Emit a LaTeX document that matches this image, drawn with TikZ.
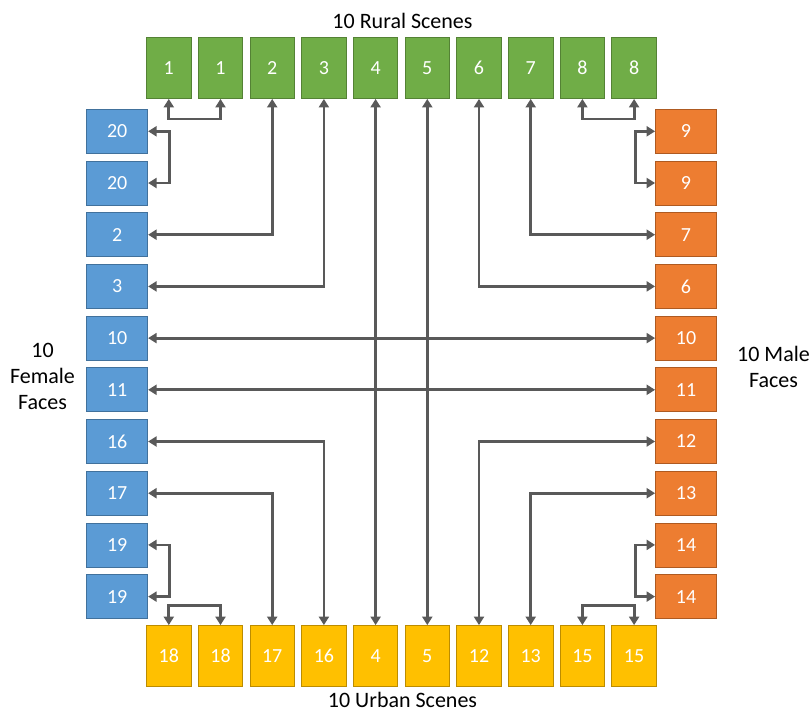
\documentclass[tikz,border=0pt]{standalone}
\usepackage{fontspec}
\setmainfont{Carlito}
\usetikzlibrary{arrows.meta}
\definecolor{gfill}{HTML}{70AD47}
\definecolor{gdraw}{HTML}{548235}
\definecolor{bfill}{HTML}{5B9BD5}
\definecolor{bdraw}{HTML}{41719C}
\definecolor{ofill}{HTML}{ED7D31}
\definecolor{odraw}{HTML}{AE5A21}
\definecolor{yfill}{HTML}{FFC000}
\definecolor{ydraw}{HTML}{BC8C00}
\definecolor{conncol}{HTML}{595959}
\tikzset{
  vbox/.style={minimum width=44.5pt, minimum height=61pt, inner sep=0pt, line width=0.8pt, text=white, font=\fontsize{20}{24}\selectfont},
  hbox/.style={minimum width=61pt, minimum height=44pt, inner sep=0pt, line width=0.8pt, text=white, font=\fontsize{20}{24}\selectfont},
  gbox/.style={vbox, fill=gfill, draw=gdraw},
  ybox/.style={vbox, fill=yfill, draw=ydraw},
  bbox/.style={hbox, fill=bfill, draw=bdraw},
  obox/.style={hbox, fill=ofill, draw=odraw},
  conn/.style={draw=conncol, line width=2.8pt, {Triangle[length=8.5pt,width=10pt]}-{Triangle[length=8.5pt,width=10pt]}},
  lbl/.style={font=\fontsize{22}{26}\selectfont, text=black, align=center, inner sep=0pt}
}
\begin{document}
\begin{tikzpicture}[x=1pt,y=-1pt]
\useasboundingbox (0,0) rectangle (811,713);
% top green
\foreach \t [count=\i from 0] in {1,1,2,3,4,5,6,7,8,8}
  \node[gbox] (t\i) at ({168.8+51.7*\i},68) {\t};
% bottom yellow
\foreach \t [count=\i from 0] in {18,18,17,16,4,5,12,13,15,15}
  \node[ybox] (b\i) at ({168.8+51.7*\i},656) {\t};
% left blue
\foreach \t [count=\i from 0] in {20,20,2,3,10,11,16,17,19,19}
  \node[bbox] (l\i) at (117.2,{131.3+51.7*\i}) {\t};
% right orange
\foreach \t [count=\i from 0] in {9,9,7,6,10,11,12,13,14,14}
  \node[obox] (r\i) at (686,{131.3+51.7*\i}) {\t};
% labels
\node[lbl, anchor=base] (rural) at (402.5,28.3) {10 Rural Scenes};
\node[lbl, anchor=base] (urban) at (402.5,707.5) {10 Urban Scenes};
\node[lbl] (female) at (42.5,376) {10\\Female\\Faces};
\node[lbl] (male) at (773.5,367) {10 Male\\Faces};
% brackets
\draw[conn] (t0.south) -- ++(0,20) -| (t1.south);
\draw[conn] (t8.south) -- ++(0,20) -| (t9.south);
\draw[conn] (b0.north) -- ++(0,-20) -| (b1.north);
\draw[conn] (b8.north) -- ++(0,-20) -| (b9.north);
\draw[conn] (l0.east) -- ++(21.5,0) |- (l1.east);
\draw[conn] (l8.east) -- ++(21.5,0) |- (l9.east);
\draw[conn] (r0.west) -- ++(-20,0) |- (r1.west);
\draw[conn] (r8.west) -- ++(-20,0) |- (r9.west);
% L-shaped
\draw[conn] (t2.south) |- (l2.east);
\draw[conn] (t3.south) |- (l3.east);
\draw[conn] (t6.south) |- (r3.west);
\draw[conn] (t7.south) |- (r2.west);
\draw[conn] (b3.north) |- (l6.east);
\draw[conn] (b2.north) |- (l7.east);
\draw[conn] (b6.north) |- (r6.west);
\draw[conn] (b7.north) |- (r7.west);
% straight
\draw[conn] (t4.south) -- (b4.north);
\draw[conn] (t5.south) -- (b5.north);
\draw[conn] (l4.east) -- (r4.west);
\draw[conn] (l5.east) -- (r5.west);
\end{tikzpicture}
\end{document}
